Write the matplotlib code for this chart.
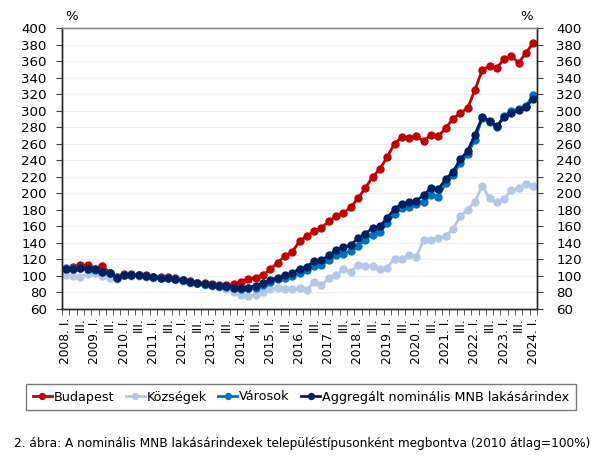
import matplotlib
matplotlib.use("Agg")
import matplotlib.pyplot as plt
import numpy as np

years = list(range(2008, 2025))
quarters = [f"{y}Q{q}" for y in years for q in (1, 2, 3, 4)][:65]

budapest = [108, 111, 113, 113, 109, 112, 104, 99, 102, 102,
            101, 101, 99, 99, 99, 97, 95, 94, 92, 91,
            90, 89, 89, 90, 93, 96, 98, 101, 108, 116,
            124, 129, 142, 148, 154, 158, 166, 172, 176, 183,
            194, 206, 220, 229, 244, 260, 268, 267, 269, 263,
            271, 269, 279, 290, 297, 303, 325, 349, 354, 352,
            362, 366, 358, 370, 382]
kozsegek = [101, 100, 99, 102, 103, 100, 97, 96, 101, 100,
            100, 99, 98, 97, 97, 95, 94, 92, 91, 89,
            88, 87, 84, 80, 77, 76, 77, 80, 84, 86,
            84, 84, 85, 83, 93, 89, 97, 101, 108, 105,
            113, 112, 112, 108, 110, 121, 121, 125, 123, 144,
            144, 146, 148, 157, 172, 180, 190, 209, 194, 189,
            193, 204, 206, 211, 209]
varosok = [110, 110, 110, 109, 107, 105, 103, 99, 101, 101,
           101, 100, 99, 98, 98, 96, 95, 93, 92, 90,
           89, 88, 87, 86, 84, 85, 86, 89, 93, 96,
           98, 100, 104, 107, 112, 113, 119, 125, 127, 130,
           136, 144, 150, 153, 164, 175, 182, 184, 187, 189,
           198, 196, 212, 222, 237, 247, 265, 291, 286, 280,
           294, 299, 302, 306, 319]
aggregalt = [108, 109, 110, 109, 108, 105, 104, 98, 101, 101,
             101, 100, 99, 98, 98, 96, 95, 93, 92, 90,
             89, 88, 88, 86, 85, 86, 88, 91, 95, 98,
             101, 103, 109, 111, 118, 119, 125, 131, 135, 137,
             146, 151, 158, 160, 170, 181, 187, 189, 191, 198,
             206, 205, 217, 226, 241, 251, 271, 292, 288, 281,
             292, 297, 301, 305, 314]

series_names = ["Budapest", "Községek", "Városok",
                "Aggregált nominális MNB lakásárindex"]
colors = ["#C00000", "#B4C7E7", "#0070C0", "#002060"]
caption = "2. ábra: A nominális MNB lakásárindexek településtípusonként megbontva (2010 átlag=100%)"

tick_labels = []
for q in quarters:
    y, qq = q.split("Q")
    if qq == "1":
        tick_labels.append(f"{y}. I.")
    elif qq == "3":
        tick_labels.append("III.")
    else:
        tick_labels.append("")

plt.rcParams['font.family'] = ['DejaVu Sans']
W, H = 602, 462
fig = plt.figure(figsize=(W/100, H/100), dpi=100)
ax = fig.add_axes([62/W, 1-309/H, (537-62)/W, (309-28)/H])

x = np.arange(len(quarters))
for data, name, c in zip([budapest, kozsegek, varosok, aggregalt], series_names, colors):
    ax.plot(x, data, color=c, lw=2.0, marker="o", ms=5.0, label=name)

yt = np.arange(60, 401, 20)
ax.set_xlim(-0.5, len(quarters) - 0.5)
ax.set_ylim(60, 400)
ax.set_yticks(yt)
ax.yaxis.grid(True, color="#EFEFEF", lw=0.8)
ax.set_axisbelow(True)

idx = [i for i, t in enumerate(tick_labels) if t]
ax.set_xticks(idx)
ax.set_xticklabels([tick_labels[i] for i in idx], rotation=90, fontsize=8.8)
ax.set_xticks(np.arange(-0.5, len(quarters)), minor=True)
ax.tick_params(axis="x", which="major", length=0, pad=6)
ax.tick_params(axis="x", which="minor", length=4, direction="out", color="#404040")
ax.tick_params(axis="y", which="both", direction="out", length=4, labelsize=9.6,
               color="#404040", pad=7)

ax2 = ax.twinx()
ax2.set_ylim(60, 400)
ax2.set_yticks(yt)
ax2.tick_params(axis="y", direction="out", length=4, labelsize=9.6,
                color="#404040", pad=10)

for a in (ax, ax2):
    for s in ["left", "right", "bottom"]:
        a.spines[s].set_color("#262626")
        a.spines[s].set_linewidth(1.0)
    a.spines["top"].set_color("#8C8C8C")
    a.spines["top"].set_linewidth(1.0)

fig.text(72/W, 1-16/H, "%", fontsize=9.5, ha="center", va="center")
fig.text(527/W, 1-16/H, "%", fontsize=9.5, ha="center", va="center")

handles, labels = ax.get_legend_handles_labels()

def make_legend(fs):
    leg = fig.legend(handles, labels, loc="center", bbox_to_anchor=(301/W, 1-397/H), ncol=4,
                     fontsize=fs, frameon=True, fancybox=False, handlelength=1.5,
                     handletextpad=0.15, columnspacing=0.9, borderpad=0.55,
                     markerscale=0.85)
    leg.get_frame().set_edgecolor("#595959")
    leg.get_frame().set_linewidth(1.0)
    return leg

renderer = fig.canvas.get_renderer()
fs = 9.5
leg = make_legend(fs)
w = leg.get_window_extent(renderer).width
leg.remove()
fs = fs * 552 / w
leg = make_legend(fs)

cap = fig.text(302/W, 1-443/H, caption, fontsize=9.5, ha="center", va="center")
cw = cap.get_window_extent(renderer).width
cap.set_fontsize(9.5 * 581 / cw)

fig.savefig("out.png", dpi=100)
